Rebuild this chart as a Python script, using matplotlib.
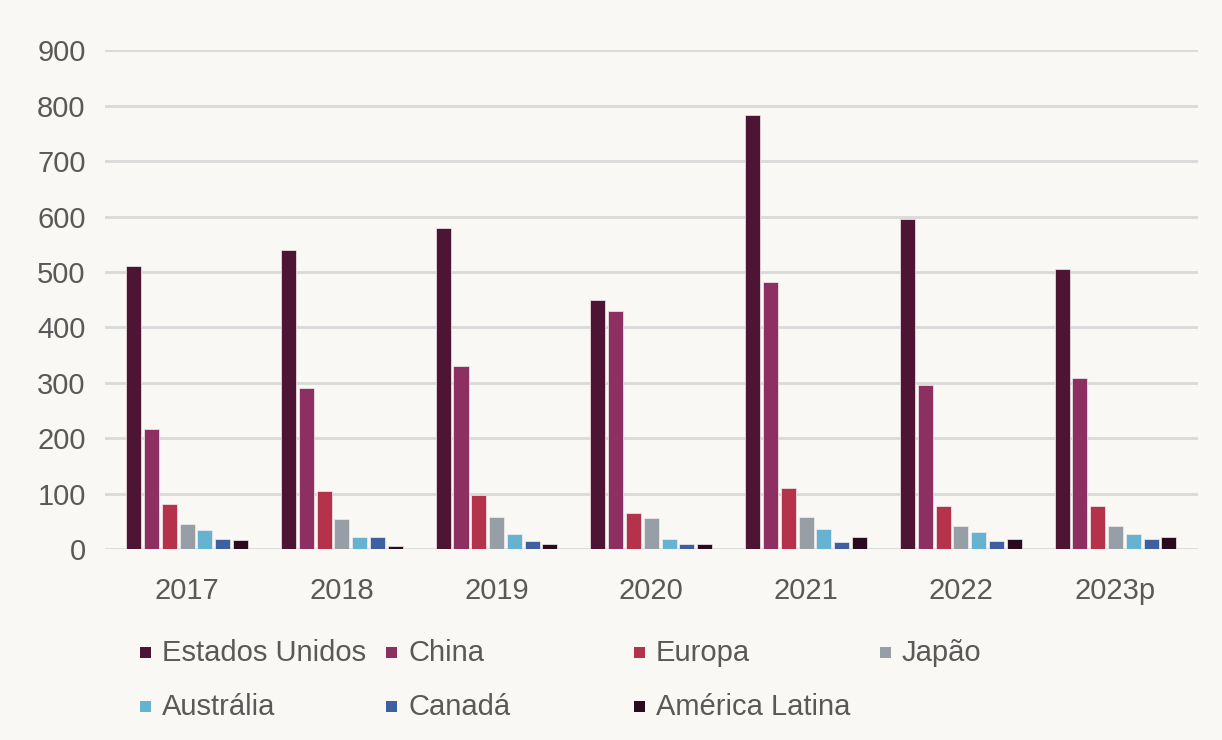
import numpy as np
import matplotlib
matplotlib.use("Agg")
import matplotlib.pyplot as plt
from matplotlib.patches import Rectangle

plt.rcParams['font.family'] = ['Liberation Sans', 'DejaVu Sans']

# dados por ano
anos = ['2017', '2018', '2019', '2020', '2021', '2022', '2023p']
estados_unidos = [510, 540, 580, 450, 784, 595, 506]
china = [217, 290, 331, 429, 482, 296, 308]
europa = [81, 104, 98, 66, 110, 78, 78]
japao = [45, 54, 57, 56, 57, 42, 42]
australia = [34, 21, 27, 18, 36, 30, 27]
canada = [19, 21, 15, 9, 12, 15, 18]
america_latina = [16, 6, 9, 9, 21, 18, 21]

nomes = ['Estados Unidos', 'China', 'Europa', 'Japão',
         'Austrália', 'Canadá', 'América Latina']
series = [estados_unidos, china, europa, japao, australia, canada, america_latina]
cores = ['#4d1433', '#8e2f62', '#b5324b', '#979ea6',
         '#66b3d1', '#3f60a0', '#2a0a1e']

bg = '#f9f8f5'
cinza = '#595959'

fig = plt.figure(figsize=(12.22, 7.40), dpi=100, facecolor=bg)
ax = fig.add_axes([0.086, 0.258, 0.894, 0.674], facecolor=bg)

x = np.arange(len(anos))
passo = 0.115
largura = 0.097
for i, (vals, cor) in enumerate(zip(series, cores)):
    ax.bar(x + (i - 3) * passo, vals, width=largura, color=cor,
           edgecolor='#f0eeee', linewidth=0.5, zorder=3)

ax.set_ylim(0, 900)
ax.set_xlim(-0.53, len(anos) - 0.47)
ax.set_yticks(range(0, 901, 100))
ax.set_xticks(x)
ax.set_xticklabels(anos)
ax.yaxis.grid(True, color='#d9d9d9', linewidth=2, zorder=0)
ax.tick_params(axis='both', length=0, labelsize=21, labelcolor=cinza)
ax.tick_params(axis='x', pad=20)
ax.tick_params(axis='y', pad=14)
for s in ax.spines.values():
    s.set_visible(False)

# legenda em grade 4 x 2
col_x = [140, 386, 634, 880]
lin_y = [653, 707]
W, H = 1222, 740
for i, (nome, cor) in enumerate(zip(nomes, cores)):
    cx = col_x[i % 4]
    cy = lin_y[i // 4]
    fig.patches.append(Rectangle((cx / W, 1 - (cy + 5) / H), 11 / W, 11 / H,
                                 transform=fig.transFigure, facecolor=cor,
                                 edgecolor='none'))
    fig.text((cx + 22) / W, 1 - cy / H, nome, fontsize=21, color=cinza,
             va='center', ha='left')

fig.savefig('out.png', dpi=100, facecolor=bg)
